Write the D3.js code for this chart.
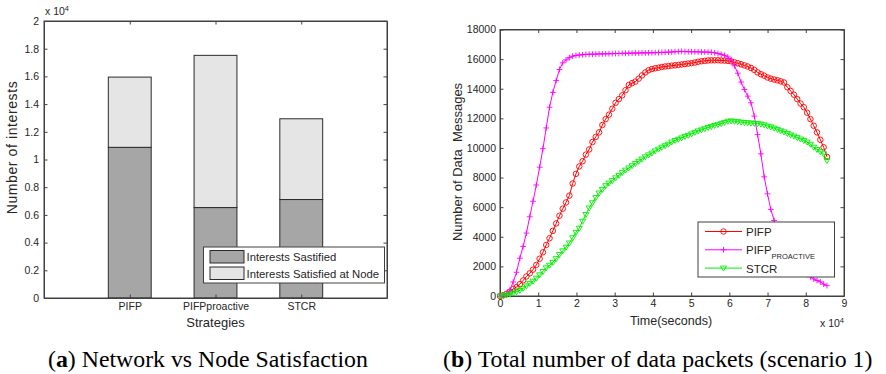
<!DOCTYPE html>
<html>
<head>
<meta charset="utf-8">
<script src="https://cdn.jsdelivr.net/npm/d3@7"></script>
<style>
  body { margin: 0; background: #fff; }
  svg { display: block; }
  .tick text { font-family: "Liberation Sans", Arial, sans-serif; font-size: 10.5px; fill: #262626; }
  .tick line, .domain { stroke: #404040; }
</style>
</head>
<body>
<div id="chart"></div>
<script>
// ---- data: (a) stacked bars ----
const strategies = ['PIFP', 'PIFPproactive', 'STCR'];
const satisfied = [10880, 6530, 7110];
const satisfiedAtNode = [5070, 10990, 5830];
const barLegend = ['Interests Sastified', 'Interests Satisfied at Node'];

// ---- data: (b) data messages over time ----
const times = [0, 864, 1728, 2592, 3456, 4320, 5184, 6048, 6912, 7776,
  8640, 9504, 10368, 11232, 12096, 12960, 13824, 14688, 15552, 16416,
  17280, 18144, 19008, 19872, 20736, 21600, 22464, 23328, 24192, 25056,
  25920, 26784, 27648, 28512, 29376, 30240, 31104, 31968, 32832, 33696,
  34560, 35424, 36288, 37152, 38016, 38880, 39744, 40608, 41472, 42336,
  43200, 44064, 44928, 45792, 46656, 47520, 48384, 49248, 50112, 50976,
  51840, 52704, 53568, 54432, 55296, 56160, 57024, 57888, 58752, 59616,
  60480, 61344, 62208, 63072, 63936, 64800, 65664, 66528, 67392, 68256,
  69120, 69984, 70848, 71712, 72576, 73440, 74304, 75168, 76032, 76896,
  77760, 78624, 79488, 80352, 81216, 82080, 82944, 83808, 84672, 85536];

const pifp = [0, 50, 150, 300, 480, 600, 800, 1050, 1320, 1530,
  1780, 2100, 2520, 2950, 3450, 3900, 4400, 4900, 5420, 5900,
  6320, 6780, 7600, 8250, 8750, 9100, 9550, 9900, 10400, 10750,
  11050, 11550, 11950, 12250, 12650, 13050, 13300, 13550, 13900, 14250,
  14380, 14480, 14680, 14900, 15100, 15250, 15330, 15380, 15420, 15470,
  15500, 15530, 15560, 15580, 15610, 15640, 15670, 15700, 15730, 15770,
  15820, 15860, 15880, 15910, 15920, 15920, 15920, 15910, 15900, 15880,
  15850, 15780, 15720, 15650, 15580, 15500, 15400, 15270, 15100, 14980,
  14880, 14760, 14680, 14620, 14570, 14500, 14420, 14100, 13850, 13600,
  13300, 13000, 12750, 12380, 11950, 11500, 11050, 10550, 10050, 9400];

const pifpProactive = [0, 50, 150, 400, 950, 1600, 2550, 3350, 4250, 5350,
  6400, 7500, 8700, 9950, 11350, 12750, 13750, 14550, 15300, 15750,
  15950, 16100, 16200, 16250, 16280, 16300, 16320, 16330, 16330, 16340,
  16350, 16350, 16360, 16360, 16370, 16380, 16380, 16390, 16390, 16400,
  16400, 16410, 16410, 16420, 16420, 16430, 16430, 16440, 16440, 16450,
  16460, 16470, 16480, 16500, 16510, 16520, 16510, 16500, 16500, 16490,
  16490, 16480, 16480, 16470, 16460, 16430, 16380, 16320, 16250, 16150,
  15950, 15550, 15050, 14450, 13950, 13500, 13050, 12150, 10900, 9600,
  8050, 6900, 5850, 5100, 4500, 3950, 3500, 3100, 2700, 2400,
  2100, 1850, 1650, 1450, 1300, 1150, 1050, 950, 800, 700];

const stcr = [0, 20, 60, 120, 200, 280, 380, 520, 680, 850,
  1000, 1200, 1430, 1650, 1900, 2080, 2270, 2520, 2800, 3050,
  3300, 3580, 3930, 4300, 4580, 5050, 5500, 5950, 6300, 6650,
  6950, 7200, 7450, 7630, 7800, 7980, 8150, 8330, 8500, 8650,
  8800, 8950, 9100, 9250, 9400, 9530, 9650, 9800, 9920, 10050,
  10150, 10250, 10400, 10500, 10580, 10680, 10780, 10850, 10950, 11050,
  11150, 11220, 11300, 11380, 11450, 11520, 11570, 11640, 11720, 11800,
  11820, 11800, 11770, 11740, 11710, 11700, 11680, 11660, 11640, 11610,
  11560, 11480, 11420, 11340, 11250, 11160, 11080, 10980, 10880, 10800,
  10700, 10600, 10500, 10400, 10250, 10050, 9900, 9750, 9600, 9150];

const lineNames = ['PIFP', 'PIFP', 'STCR'];
const yTicksA = [0, 2000, 4000, 6000, 8000, 10000, 12000, 14000, 16000, 18000, 20000];
const yTicksB = [0, 2000, 4000, 6000, 8000, 10000, 12000, 14000, 16000, 18000];
const xTicksB = [0, 10000, 20000, 30000, 40000, 50000, 60000, 70000, 80000, 90000];

const W = 886, H = 374;
const sans = '"Liberation Sans", Arial, sans-serif';
const serif = '"Liberation Serif", "Times New Roman", serif';
const tickLen = 3.5;

const svg = d3.select('#chart').append('svg')
  .attr('width', W)
  .attr('height', H);

// ================= (a) =================
const a = { left: 44, right: 387, top: 21, bottom: 298 };
const xA = d3.scaleLinear().domain([0, 4]).range([a.left, a.right]);
const yA = d3.scaleLinear().domain([0, 20000]).range([a.bottom, a.top]);

const barRows = strategies.map((s, i) => ({ pos: i + 1, name: s, sat: satisfied[i], node: satisfiedAtNode[i] }));
const stacked = d3.stack().keys(['sat', 'node'])(barRows);
const barFill = ['#a6a6a6', '#e5e5e5'];

const gA = svg.append('g');

gA.selectAll('g.layer')
  .data(stacked)
  .enter().append('g')
  .attr('class', 'layer')
  .attr('fill', (d, i) => barFill[i])
  .selectAll('rect')
  .data(d => d)
  .enter().append('rect')
  .attr('x', d => xA(d.data.pos - 0.25))
  .attr('width', xA(0.5) - xA(0))
  .attr('y', d => yA(d[1]))
  .attr('height', d => yA(d[0]) - yA(d[1]))
  .attr('stroke', '#2b2b2b')
  .attr('stroke-width', 1);

// axes, ticks pointing inward like matlab
gA.append('g')
  .attr('transform', `translate(${a.left},0)`)
  .call(d3.axisLeft(yA).tickValues(yTicksA).tickSize(-tickLen).tickSizeOuter(0).tickPadding(5)
    .tickFormat(d => String(+(d / 10000).toFixed(1))));
gA.append('g')
  .attr('transform', `translate(${a.right},0)`)
  .call(d3.axisRight(yA).tickValues(yTicksA).tickSize(-tickLen).tickSizeOuter(0).tickFormat(''));
gA.append('g')
  .attr('transform', `translate(0,${a.bottom})`)
  .call(d3.axisBottom(xA).tickValues([1, 2, 3]).tickSize(-tickLen).tickSizeOuter(0).tickPadding(5)
    .tickFormat(d => strategies[d - 1]));
gA.append('g')
  .attr('transform', `translate(0,${a.top})`)
  .call(d3.axisTop(xA).tickValues([1, 2, 3]).tickSize(-tickLen).tickSizeOuter(0).tickFormat(''));

gA.append('rect')
  .attr('x', a.left).attr('y', a.top)
  .attr('width', a.right - a.left).attr('height', a.bottom - a.top)
  .attr('fill', 'none').attr('stroke', '#404040');

// exponent
const expA = gA.append('text')
  .attr('x', a.left + 1).attr('y', 15)
  .attr('font-family', sans).attr('font-size', 10.5).attr('fill', '#262626')
  .text('x 10');
expA.append('tspan').attr('dy', -4).attr('font-size', 7.5).text('4');

gA.append('text')
  .attr('transform', `translate(17,${(a.top + a.bottom) / 2 - 12}) rotate(-90)`)
  .attr('text-anchor', 'middle')
  .attr('font-family', sans).attr('font-size', 14).attr('fill', '#262626')
  .attr('letter-spacing', 0.6)
  .text('Number of interests');

gA.append('text')
  .attr('x', xA(2)).attr('y', 327)
  .attr('text-anchor', 'middle')
  .attr('font-family', sans).attr('font-size', 13).attr('fill', '#262626')
  .text('Strategies');

// legend (a)
const legA = gA.append('g').attr('transform', 'translate(203.5,247)');
legA.append('rect')
  .attr('width', 181).attr('height', 36)
  .attr('fill', '#fff').attr('stroke', '#404040');
barLegend.forEach((name, i) => {
  legA.append('rect')
    .attr('x', 6.5).attr('y', 3.5 + i * 16.5)
    .attr('width', 34).attr('height', 12.5)
    .attr('fill', barFill[i]).attr('stroke', '#2b2b2b');
  legA.append('text')
    .attr('x', 43).attr('y', 14 + i * 16.5)
    .attr('font-family', sans).attr('font-size', 11.3).attr('fill', '#262626')
    .text(name);
});

// ================= (b) =================
const b = { left: 500, right: 844, top: 29.5, bottom: 296 };
const xB = d3.scaleLinear().domain([0, 90000]).range([b.left, b.right]);
const yB = d3.scaleLinear().domain([0, 18000]).range([b.bottom, b.top]);

const gB = svg.append('g');

gB.append('g')
  .attr('transform', `translate(${b.left},0)`)
  .call(d3.axisLeft(yB).tickValues(yTicksB).tickSize(-tickLen).tickSizeOuter(0).tickPadding(4)
    .tickFormat(d3.format('d')));
gB.append('g')
  .attr('transform', `translate(${b.right},0)`)
  .call(d3.axisRight(yB).tickValues(yTicksB).tickSize(-tickLen).tickSizeOuter(0).tickFormat(''));
gB.append('g')
  .attr('transform', `translate(0,${b.bottom})`)
  .call(d3.axisBottom(xB).tickValues(xTicksB).tickSize(-tickLen).tickSizeOuter(0).tickPadding(4)
    .tickFormat(d => d / 10000));
gB.append('g')
  .attr('transform', `translate(0,${b.top})`)
  .call(d3.axisTop(xB).tickValues(xTicksB).tickSize(-tickLen).tickSizeOuter(0).tickFormat(''));

gB.append('rect')
  .attr('x', b.left).attr('y', b.top)
  .attr('width', b.right - b.left).attr('height', b.bottom - b.top)
  .attr('fill', 'none').attr('stroke', '#404040');

const series = [
  { values: pifp, color: '#ff0000', marker: 'o' },
  { values: pifpProactive, color: '#ff00ff', marker: '+' },
  { values: stcr, color: '#00ee00', marker: 'v' }
];

const markerPath = {
  'o': d3.symbol().type(d3.symbolCircle).size(24)(),
  '+': 'M-2.9,0H2.9M0,-2.9V2.9',
  'v': 'M-3,-2L3,-2L0,3Z'
};

const line = d3.line()
  .x((d, i) => xB(times[i]))
  .y(d => yB(d));

series.forEach(s => {
  const g = gB.append('g');
  g.append('path')
    .attr('d', line(s.values))
    .attr('fill', 'none')
    .attr('stroke', s.color)
    .attr('stroke-width', 1);
  g.selectAll('path.mk')
    .data(s.values)
    .enter().append('path')
    .attr('class', 'mk')
    .attr('transform', (d, i) => `translate(${xB(times[i])},${yB(d)})`)
    .attr('d', markerPath[s.marker])
    .attr('fill', 'none')
    .attr('stroke', s.color)
    .attr('stroke-width', 0.9);
});

const expB = gB.append('text')
  .attr('x', 820).attr('y', 327)
  .attr('font-family', sans).attr('font-size', 10.5).attr('fill', '#262626')
  .text('x 10');
expB.append('tspan').attr('dy', -4).attr('font-size', 7.5).text('4');

gB.append('text')
  .attr('x', 671).attr('y', 324.5)
  .attr('text-anchor', 'middle')
  .attr('font-family', sans).attr('font-size', 12.5).attr('fill', '#262626')
  .text('Time(seconds)');

gB.append('text')
  .attr('transform', `translate(462,162) rotate(-90)`)
  .attr('text-anchor', 'middle')
  .attr('font-family', sans).attr('font-size', 13).attr('fill', '#262626')
  .attr('xml:space', 'preserve')
  .style('white-space', 'pre')
  .text('Number of Data  Messages');

// legend (b)
const legB = gB.append('g').attr('transform', 'translate(698,222)');
legB.append('rect')
  .attr('width', 136.5).attr('height', 55)
  .attr('fill', '#fff').attr('stroke', '#404040');
series.forEach((s, i) => {
  const ry = 9.5 + i * 18.3;
  legB.append('line')
    .attr('x1', 7).attr('x2', 44).attr('y1', ry).attr('y2', ry)
    .attr('stroke', s.color).attr('stroke-width', 1);
  legB.append('path')
    .attr('transform', `translate(25.5,${ry})`)
    .attr('d', markerPath[s.marker])
    .attr('fill', 'none').attr('stroke', s.color).attr('stroke-width', 0.9);
  const t = legB.append('text')
    .attr('x', 48).attr('y', ry + 4.5)
    .attr('font-family', sans).attr('font-size', 11.5).attr('fill', '#262626')
    .text(lineNames[i]);
  if (i === 1) {
    t.append('tspan').attr('dy', 5).attr('font-size', 7.5).text('PROACTIVE');
  }
});

// ================= captions =================
const capA = svg.append('text')
  .attr('x', 48).attr('y', 367)
  .attr('font-family', serif).attr('font-size', 23.8).attr('fill', '#000');
capA.append('tspan').text('(');
capA.append('tspan').attr('font-weight', 'bold').text('a');
capA.append('tspan').text(') Network vs Node Satisfaction');

const capB = svg.append('text')
  .attr('x', 443).attr('y', 367)
  .attr('font-family', serif).attr('font-size', 23.8).attr('fill', '#000');
capB.append('tspan').text('(');
capB.append('tspan').attr('font-weight', 'bold').text('b');
capB.append('tspan').text(') Total number of data packets (scenario 1)');
</script>
</body>
</html>
